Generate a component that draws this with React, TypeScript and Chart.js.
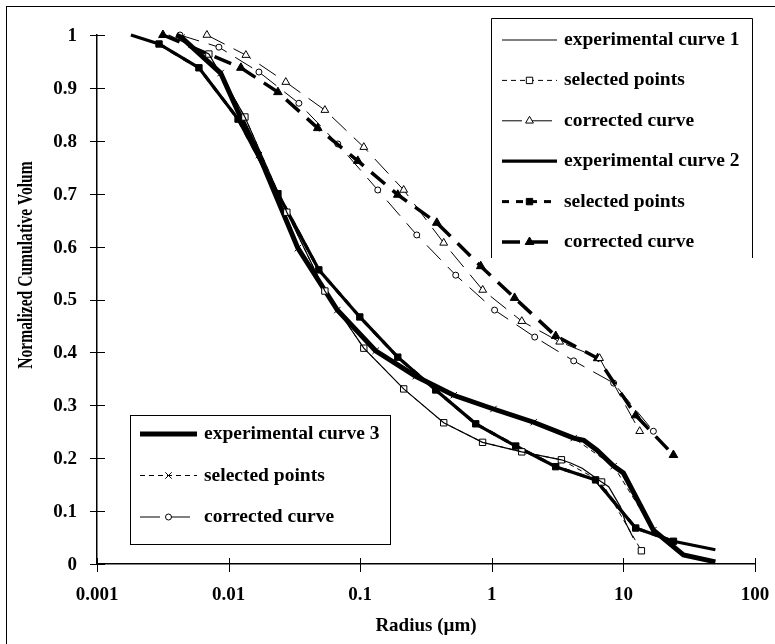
import React, { useEffect, useRef } from 'react';
import { Chart, registerables } from 'chart.js';

Chart.register(...registerables);

// ---- axis ticks ----
const xTickValues = [0.001, 0.01, 0.1, 1, 10, 100];
const xTickLabels = ['0.001', '0.01', '0.1', '1', '10', '100'];
const yTickValues = [0, 0.1, 0.2, 0.3, 0.4, 0.5, 0.6, 0.7, 0.8, 0.9, 1];
const yTickLabels = ['0', '0.1', '0.2', '0.3', '0.4', '0.5', '0.6', '0.7', '0.8', '0.9', '1'];

// ---- series 1 ----
const exp1X = [0.0035, 0.00708, 0.0133, 0.0277, 0.0539, 0.1065, 0.214, 0.431, 0.851, 1.69, 3.38, 3.97, 4.86, 6.83, 7.73, 9.5, 10.4, 11.9];
const exp1Y = [1.0, 0.964, 0.845, 0.665, 0.516, 0.408, 0.331, 0.267, 0.23, 0.212, 0.197, 0.191, 0.181, 0.155, 0.146, 0.108, 0.078, 0.049];
const sel1X = [0.00708, 0.0133, 0.0277, 0.0539, 0.1065, 0.214, 0.431, 0.851, 1.69, 3.38, 6.83, 13.7];
const sel1Y = [0.964, 0.845, 0.665, 0.516, 0.408, 0.331, 0.267, 0.23, 0.212, 0.197, 0.155, 0.025];
const cor1X = [0.00684, 0.01353, 0.0272, 0.0539, 0.1065, 0.214, 0.431, 0.853, 1.69, 3.28, 6.59, 13.3];
const cor1Y = [1.0, 0.962, 0.911, 0.858, 0.788, 0.707, 0.607, 0.518, 0.459, 0.42, 0.389, 0.251];

// ---- series 2 ----
const exp2X = [0.00181, 0.00296, 0.00595, 0.0118, 0.0237, 0.0485, 0.0993, 0.193, 0.375, 0.755, 1.52, 3.06, 6.15, 12.4, 24, 50];
const exp2Y = [1.0, 0.983, 0.938, 0.841, 0.7, 0.556, 0.467, 0.391, 0.329, 0.265, 0.223, 0.184, 0.159, 0.068, 0.043, 0.027];
const sel2X = [0.00296, 0.00595, 0.0118, 0.0237, 0.0485, 0.0993, 0.193, 0.375, 0.755, 1.52, 3.06, 6.15, 12.4, 24];
const sel2Y = [0.983, 0.938, 0.841, 0.7, 0.556, 0.467, 0.391, 0.329, 0.265, 0.223, 0.184, 0.159, 0.068, 0.043];
const cor2X = [0.00317, 0.0124, 0.0237, 0.0476, 0.0959, 0.193, 0.382, 0.824, 1.49, 3.06, 6.37, 12.4, 24];
const cor2Y = [1.0, 0.938, 0.892, 0.824, 0.762, 0.698, 0.645, 0.563, 0.503, 0.431, 0.389, 0.281, 0.206];

// ---- series 3 ----
const exp3X = [0.004, 0.0044, 0.0087, 0.0118, 0.017, 0.0336, 0.067, 0.131, 0.264, 0.514, 1.03, 2.08, 4.19, 5.0, 6.3, 8.43, 10, 16.9, 28.6, 50];
const exp3Y = [1.0, 0.995, 0.928, 0.855, 0.773, 0.597, 0.48, 0.403, 0.355, 0.319, 0.293, 0.268, 0.238, 0.234, 0.215, 0.185, 0.172, 0.064, 0.017, 0.004];
const sel3X = [0.0044, 0.0087, 0.017, 0.0336, 0.067, 0.131, 0.264, 0.514, 1.03, 2.08, 4.19, 8.43, 16.9];
const sel3Y = [0.995, 0.928, 0.773, 0.597, 0.48, 0.403, 0.355, 0.319, 0.293, 0.268, 0.238, 0.185, 0.064];
const cor3X = [0.00427, 0.00844, 0.017, 0.0342, 0.0676, 0.136, 0.269, 0.532, 1.05, 2.12, 4.19, 8.43, 16.9];
const cor3Y = [1.0, 0.977, 0.93, 0.871, 0.794, 0.707, 0.622, 0.546, 0.48, 0.429, 0.384, 0.342, 0.251];

const seriesLabels = [
  'experimental curve 1', 'selected points', 'corrected curve',
  'experimental curve 2', 'selected points', 'corrected curve',
  'experimental curve 3', 'selected points', 'corrected curve',
];

const xTitle = 'Radius (\u00b5m)';
const yTitle = 'Normalized Cumulative Volum';

const FONT = '"Liberation Serif", "Times New Roman", serif';

const mk = (xs: number[], ys: number[]) => xs.map((x, i) => ({ x, y: ys[i] }));

function drawMarker(ctx: CanvasRenderingContext2D, style: string, x: number, y: number, r: number, fill: string) {
  ctx.save();
  ctx.setLineDash([]);
  ctx.lineWidth = 1;
  ctx.strokeStyle = '#000';
  ctx.fillStyle = fill;
  ctx.beginPath();
  if (style === 'rect') {
    const s = r * Math.SQRT1_2;
    ctx.rect(x - s, y - s, 2 * s, 2 * s);
    ctx.fill();
    ctx.stroke();
  } else if (style === 'triangle') {
    let a = 0;
    ctx.moveTo(x + Math.sin(a) * r, y - Math.cos(a) * r);
    a += (2 * Math.PI) / 3;
    ctx.lineTo(x + Math.sin(a) * r, y - Math.cos(a) * r);
    a += (2 * Math.PI) / 3;
    ctx.lineTo(x + Math.sin(a) * r, y - Math.cos(a) * r);
    ctx.closePath();
    ctx.fill();
    ctx.stroke();
  } else if (style === 'circle') {
    ctx.arc(x, y, r, 0, Math.PI * 2);
    ctx.fill();
    ctx.stroke();
  } else if (style === 'crossRot') {
    const o = r * Math.SQRT1_2;
    ctx.moveTo(x - o, y - o);
    ctx.lineTo(x + o, y + o);
    ctx.moveTo(x - o, y + o);
    ctx.lineTo(x + o, y - o);
    ctx.stroke();
  }
  ctx.restore();
}

const decorPlugin = {
  id: 'decor',
  afterDraw(chart: any) {
    const ctx: CanvasRenderingContext2D = chart.ctx;
    const { left, right, bottom } = chart.chartArea;
    const xs = chart.scales.x;
    const ys = chart.scales.y;
    ctx.save();
    ctx.strokeStyle = '#000';
    ctx.fillStyle = '#000';

    // outer frame (only top and left edges fall inside the picture)
    ctx.lineWidth = 1;
    ctx.strokeRect(6.5, 6.5, 900, 900);

    // tick marks crossing the axes
    yTickValues.forEach((v) => {
      const p = Math.round(ys.getPixelForValue(v)) + 0.5;
      ctx.beginPath();
      ctx.moveTo(left - 7, p);
      ctx.lineTo(left + 8, p);
      ctx.stroke();
    });
    xTickValues.forEach((v) => {
      const p = Math.round(xs.getPixelForValue(v)) + 0.5;
      ctx.beginPath();
      ctx.moveTo(p, bottom - 6);
      ctx.lineTo(p, bottom + 8);
      ctx.stroke();
    });

    // tick labels
    ctx.font = `bold 19px ${FONT}`;
    ctx.textAlign = 'right';
    ctx.textBaseline = 'middle';
    yTickValues.forEach((v, i) => {
      ctx.fillText(yTickLabels[i], left - 20, ys.getPixelForValue(v) + 1);
    });
    ctx.textAlign = 'center';
    xTickValues.forEach((v, i) => {
      ctx.fillText(xTickLabels[i], xs.getPixelForValue(v), bottom + 31);
    });

    // axis titles
    ctx.fillText(xTitle, (left + right) / 2, bottom + 62);
    ctx.save();
    ctx.translate(27, 265);
    ctx.rotate(-Math.PI / 2);
    ctx.scale(0.78, 1);
    ctx.font = `bold 20px ${FONT}`;
    ctx.fillText(yTitle, 0, 0);
    ctx.restore();

    // legends
    ctx.font = `bold 19.5px ${FONT}`;
    const ds = chart.data.datasets;
    const drawItem = (idx: number, x0: number, x1: number, y: number, tx: number) => {
      const d = ds[idx];
      ctx.save();
      ctx.lineWidth = d.borderWidth;
      ctx.setLineDash(d.borderDash || []);
      ctx.beginPath();
      ctx.moveTo(x0, y);
      ctx.lineTo(x1, y);
      ctx.stroke();
      ctx.restore();
      if (d.pointRadius > 0) {
        drawMarker(ctx, d.pointStyle, (x0 + x1) / 2, y, d.pointRadius, d.pointBackgroundColor);
      }
      ctx.textAlign = 'left';
      ctx.textBaseline = 'middle';
      ctx.fillText(seriesLabels[idx], tx, y);
    };

    // legend 1 box: top, left, right edges
    ctx.lineWidth = 1;
    ctx.beginPath();
    ctx.moveTo(491.5, 258);
    ctx.lineTo(491.5, 18.5);
    ctx.lineTo(752.5, 18.5);
    ctx.lineTo(752.5, 258);
    ctx.stroke();
    [0, 1, 2, 3, 4, 5].forEach((idx, r) => drawItem(idx, 502, 557, 40 + r * 40.4, 564));

    // legend 2 box
    ctx.lineWidth = 1;
    ctx.strokeRect(130.5, 415.5, 260, 129);
    [6, 7, 8].forEach((idx, r) => drawItem(idx, 140, 197, 434 + r * 41.5, 204));

    ctx.restore();
  },
};

export default function App() {
  const ref = useRef<HTMLCanvasElement | null>(null);
  useEffect(() => {
    if (!ref.current) return;
    const base = { borderColor: '#000', showLine: true, fill: false, tension: 0, pointBorderColor: '#000', pointBorderWidth: 1, clip: false as any };
    const chart = new Chart(ref.current, {
      type: 'scatter',
      data: {
        datasets: [
          { ...base, label: seriesLabels[0], data: mk(exp1X, exp1Y), borderWidth: 1.2, pointRadius: 0 },
          { ...base, label: seriesLabels[1], data: mk(sel1X, sel1Y), borderWidth: 1, borderDash: [5, 4], pointStyle: 'rect', pointRadius: 4.5, pointBackgroundColor: '#fff' },
          { ...base, label: seriesLabels[2], data: mk(cor1X, cor1Y), borderWidth: 1, borderDash: [20, 10], pointStyle: 'triangle', pointRadius: 4.5, pointBackgroundColor: '#fff' },
          { ...base, label: seriesLabels[3], data: mk(exp2X, exp2Y), borderWidth: 3.2, pointRadius: 0 },
          { ...base, label: seriesLabels[4], data: mk(sel2X, sel2Y), borderWidth: 3, borderDash: [7, 7], pointStyle: 'rect', pointRadius: 4.5, pointBackgroundColor: '#000' },
          { ...base, label: seriesLabels[5], data: mk(cor2X, cor2Y), borderWidth: 3.5, borderDash: [18, 10], pointStyle: 'triangle', pointRadius: 5, pointBackgroundColor: '#000' },
          { ...base, label: seriesLabels[6], data: mk(exp3X, exp3Y), borderWidth: 5, pointRadius: 0 },
          { ...base, label: seriesLabels[7], data: mk(sel3X, sel3Y), borderWidth: 1, borderDash: [5, 4], pointStyle: 'crossRot', pointRadius: 4.5, pointBackgroundColor: '#fff' },
          { ...base, label: seriesLabels[8], data: mk(cor3X, cor3Y), borderWidth: 1, borderDash: [20, 10], pointStyle: 'circle', pointRadius: 3, pointBackgroundColor: '#fff' },
        ] as any,
      },
      options: {
        responsive: false,
        animation: false,
        devicePixelRatio: 1,
        layout: { padding: { left: 0, right: 20, top: 35, bottom: 0 } },
        plugins: { legend: { display: false }, tooltip: { enabled: false } },
        elements: { line: { borderCapStyle: 'butt' } },
        scales: {
          x: {
            type: 'logarithmic',
            min: 0.001,
            max: 100,
            afterBuildTicks: (s: any) => { s.ticks = xTickValues.map((v) => ({ value: v })); },
            afterFit: (s: any) => { s.height = 80; },
            grid: { display: false, drawTicks: false },
            border: { display: true, color: '#000', width: 1.5 },
            ticks: { display: false },
          },
          y: {
            type: 'linear',
            min: 0,
            max: 1,
            afterBuildTicks: (s: any) => { s.ticks = yTickValues.map((v) => ({ value: v })); },
            afterFit: (s: any) => { s.width = 97; },
            grid: { display: false, drawTicks: false },
            border: { display: true, color: '#000', width: 1.5 },
            ticks: { display: false },
          },
        },
      } as any,
      plugins: [decorPlugin],
    });
    return () => chart.destroy();
  }, []);
  return (
    <div style={{ position: 'absolute', left: 0, top: 0, width: 775, height: 644, background: '#fff' }}>
      <canvas ref={ref} width={775} height={644} style={{ display: 'block', width: 775, height: 644 }} />
    </div>
  );
}
